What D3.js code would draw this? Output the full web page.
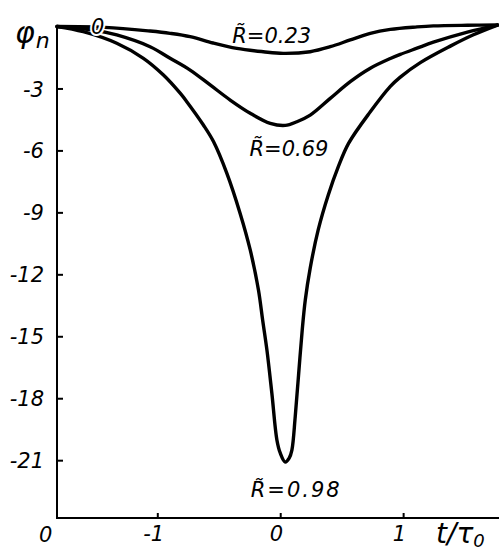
<!DOCTYPE html>
<html>
<head>
<meta charset="utf-8">
<script src="https://cdn.jsdelivr.net/npm/d3@7/dist/d3.min.js"></script>
<style>
  html, body { margin: 0; padding: 0; background: #fff; }
  svg { display: block; }
  text { font-family: "DejaVu Sans", sans-serif; font-style: italic; fill: #000; }
</style>
</head>
<body>
<svg id="chart" width="499" height="554"></svg>
<script>
// ---- data (t/tau0, phi_n) ----
const t023 = [-1.816, -1.425, -1.059, -0.896, -0.733, -0.546, -0.353, -0.138, 0.024, 0.244, 0.407, 0.570, 0.733, 0.896, 1.113, 1.246, 1.523, 1.767];
const phi023 = [0, -0.04, -0.22, -0.33, -0.49, -0.80, -1.06, -1.22, -1.30, -1.22, -0.98, -0.65, -0.33, -0.14, -0.02, 0.03, 0.06, 0.07];

const t069 = [-1.816, -1.520, -1.330, -1.059, -0.896, -0.733, -0.570, -0.407, -0.244, -0.081, 0.041, 0.136, 0.244, 0.407, 0.570, 0.733, 0.896, 0.977, 1.113, 1.246, 1.523, 1.767];
const phi069 = [0, -0.17, -0.41, -0.98, -1.54, -2.11, -2.83, -3.56, -4.20, -4.69, -4.79, -4.61, -4.29, -3.48, -2.67, -2.02, -1.55, -1.35, -1.05, -0.76, -0.27, 0.07];

const t098 = [-1.816, -1.602, -1.330, -1.113, -0.950, -0.814, -0.760, -0.625, -0.543, -0.434, -0.326, -0.244, -0.177, -0.143, -0.108, -0.068, -0.027, 0.0, 0.041, 0.073, 0.095, 0.122, 0.149, 0.179, 0.204, 0.244, 0.309, 0.391, 0.472, 0.556, 0.733, 0.896, 0.977, 1.140, 1.384, 1.572, 1.767];
const phi098 = [0, -0.25, -0.81, -1.54, -2.35, -3.23, -3.64, -4.77, -5.57, -7.11, -9.05, -10.82, -12.76, -14.21, -15.67, -17.76, -20.02, -20.65, -21.09, -20.9, -20.51, -18.90, -16.9, -14.70, -13.24, -11.7, -9.85, -8.16, -6.80, -5.66, -4.13, -2.90, -2.45, -1.75, -0.95, -0.40, 0.07];

const seriesNames = ["0.23", "0.69", "0.98"];
const yTickValues = [-3, -6, -9, -12, -15, -18, -21];
const yTickLabels = ["-3", "-6", "-9", "-12", "-15", "-18", "-21"];
const xTickValues = [-1, 0, 1];
const xTickLabels = ["-1", "0", "1"];

// ---- scales ----
const svg = d3.select("#chart");
const x = d3.scaleLinear().domain([-1.816, 1.78]).range([57, 499]);
const y = d3.scaleLinear().domain([0, -23.8]).range([26.5, 518]);

// ---- axes ----
const yAxis = d3.axisLeft(y).tickValues(yTickValues)
  .tickFormat((d, i) => yTickLabels[i]).tickSize(-6).tickPadding(13);
const gy = svg.append("g").attr("transform", `translate(${x(-1.816)},0)`).call(yAxis);
gy.select(".domain").remove();
gy.selectAll(".tick line").attr("stroke", "#000").attr("stroke-width", 2);
gy.selectAll(".tick text").attr("font-size", 21).attr("font-family", "DejaVu Sans")
  .attr("font-style", "italic").attr("dy", "0.36em");

const xAxis = d3.axisBottom(x).tickValues(xTickValues)
  .tickFormat((d, i) => xTickLabels[i]).tickSize(-5).tickPadding(8);
const gx = svg.append("g").attr("transform", `translate(0,${y(-23.8)})`).call(xAxis);
gx.select(".domain").remove();
gx.selectAll(".tick line").attr("stroke", "#000").attr("stroke-width", 2);
gx.selectAll(".tick text").attr("font-size", 21).attr("font-family", "DejaVu Sans")
  .attr("font-style", "italic").attr("dx", "-0.2em");

// axis lines
svg.append("line").attr("x1", x(-1.816)).attr("x2", x(-1.816))
  .attr("y1", y(0) - 1).attr("y2", y(-23.8) + 1)
  .attr("stroke", "#000").attr("stroke-width", 2);
svg.append("line").attr("x1", x(-1.816) - 1).attr("x2", x(1.78))
  .attr("y1", y(-23.8)).attr("y2", y(-23.8))
  .attr("stroke", "#000").attr("stroke-width", 2);

// ---- curves ----
const line = d3.line().x(d => x(d[0])).y(d => y(d[1])).curve(d3.curveCatmullRom.alpha(0.5));
const series = [
  d3.zip(t023, phi023),
  d3.zip(t069, phi069),
  d3.zip(t098, phi098)
];
svg.selectAll("path.curve").data(series).join("path")
  .attr("class", "curve")
  .attr("d", line)
  .attr("fill", "none").attr("stroke", "#000").attr("stroke-width", 3.4)
  .attr("stroke-linejoin", "round").attr("stroke-linecap", "round");

// ---- labels ----
const labelPos = [[-0.39, -0.80], [-0.25, -6.25], [-0.24, -22.8]];
svg.selectAll("text.rlab").data(seriesNames).join("text")
  .attr("class", "rlab")
  .attr("x", (d, i) => x(labelPos[i][0]))
  .attr("y", (d, i) => y(labelPos[i][1]))
  .attr("font-size", 21)
  .attr("letter-spacing", (d, i) => i === 2 ? 2 : 0)
  .text(d => "R\u0303=" + d);

// "0" marker near start (line interrupted around it)
svg.append("text").attr("x", 91).attr("y", 34).attr("font-size", 21)
  .attr("stroke", "#fff").attr("stroke-width", 4).attr("paint-order", "stroke")
  .text("0");
// origin label
svg.append("text").attr("x", 39).attr("y", 542).attr("font-size", 21).text("0");

// y axis title φ_n
const yt = svg.append("text").attr("x", 15).attr("y", 43).attr("font-size", 30);
yt.append("tspan").text("φ");
yt.append("tspan").attr("font-size", 22).attr("dy", 5).attr("dx", 1).text("n");

// x axis title t/τ0
const xt = svg.append("text").attr("x", 436).attr("y", 543).attr("font-size", 28);
xt.append("tspan").text("t/τ");
xt.append("tspan").attr("font-size", 18).attr("dy", 4).text("0");
</script>
</body>
</html>
